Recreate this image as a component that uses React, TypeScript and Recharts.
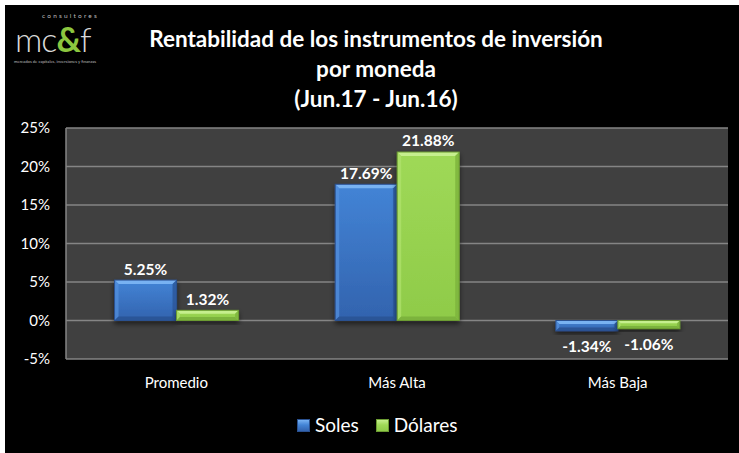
import React from 'react';
import { Bar, BarChart, CartesianGrid, LabelList, XAxis, YAxis } from 'recharts';

const categories = ['Promedio', 'Más Alta', 'Más Baja'];
const soles = [5.25, 17.69, -1.34];
const dolares = [1.32, 21.88, -1.06];
const yTicks = [-5, 0, 5, 10, 15, 20, 25];
const titleLines = ['Rentabilidad de los instrumentos de inversión', 'por moneda', '(Jun.17 - Jun.16)'];

const data = categories.map((name, i) => ({ name, soles: soles[i], dolares: dolares[i] }));

const FONT = 'Lato, "Open Sans", sans-serif';

const palettes: Record<string, { top: string; bottom: string; bevelTop: string; bevelSide: string; bevelDark: string; border: string }> = {
  soles: { top: '#4384d6', bottom: '#3263ae', bevelTop: '#78b2f2', bevelSide: '#5592de', bevelDark: '#2b5597', border: '#2a5190' },
  dolares: { top: '#9fd957', bottom: '#8fcb49', bevelTop: '#c6ef8e', bevelSide: '#b0e36e', bevelDark: '#7cb33c', border: '#6c9c32' },
};

const BevelBar = (props: any) => {
  const { x, y, width, height, dataKey } = props;
  const p = palettes[dataKey];
  const top = height < 0 ? y + height : y;
  const h = Math.abs(height);
  const w = width;
  const b = Math.min(4, h / 3);
  return (
    <g filter="url(#barShadow)">
      <rect x={x} y={top} width={w} height={h} fill={`url(#grad-${dataKey})`} />
      <polygon points={`${x},${top} ${x + w},${top} ${x + w - b},${top + b} ${x + b},${top + b}`} fill={p.bevelTop} />
      <polygon points={`${x},${top} ${x + b},${top + b} ${x + b},${top + h - b} ${x},${top + h}`} fill={p.bevelSide} opacity={0.7} />
      <polygon points={`${x + w},${top} ${x + w - b},${top + b} ${x + w - b},${top + h - b} ${x + w},${top + h}`} fill={p.bevelDark} opacity={0.8} />
      <polygon points={`${x},${top + h} ${x + b},${top + h - b} ${x + w - b},${top + h - b} ${x + w},${top + h}`} fill={p.bevelDark} />
      <rect x={x} y={top} width={w} height={h} fill="none" stroke={p.border} strokeWidth={1} />
    </g>
  );
};

const ValueLabel = (props: any) => {
  const { x, y, width, height, value } = props;
  const neg = value < 0;
  const top = height < 0 ? y + height : y;
  const bottom = top + Math.abs(height);
  const cy = neg ? bottom + 16 : top - 11;
  return (
    <text x={x + width / 2} y={cy} dy="0.35em" textAnchor="middle" fill="#ffffff" fontFamily={FONT} fontWeight={700} fontSize={15.5}>
      {value.toFixed(2)}%
    </text>
  );
};

const LegendItem = ({ label, k }: { label: string; k: string }) => (
  <span style={{ display: 'inline-flex', alignItems: 'center', marginRight: 17 }}>
    <span
      style={{
        width: 11,
        height: 11,
        marginRight: 5,
        background: `linear-gradient(${palettes[k].bevelTop}, ${palettes[k].top} 45%, ${palettes[k].bottom})`,
        border: `1px solid ${palettes[k].border}`,
        display: 'inline-block',
      }}
    />
    {label}
  </span>
);

export default function App() {
  return (
    <div style={{ position: 'absolute', left: 0, top: 0, width: 739, height: 453, background: '#ffffff', overflow: 'hidden' }}>
      <div style={{ position: 'absolute', left: 5, top: 5, width: 734, height: 448, background: '#000000' }}>
        <BarChart
          width={734}
          height={448}
          data={data}
          margin={{ top: 123, right: 11, left: 0, bottom: 0 }}
          barCategoryGap="22%"
          barGap={0}
        >
          <defs>
            <linearGradient id="grad-soles" x1="0" y1="0" x2="0" y2="1">
              <stop offset="0%" stopColor={palettes.soles.top} />
              <stop offset="100%" stopColor={palettes.soles.bottom} />
            </linearGradient>
            <linearGradient id="grad-dolares" x1="0" y1="0" x2="0" y2="1">
              <stop offset="0%" stopColor={palettes.dolares.top} />
              <stop offset="100%" stopColor={palettes.dolares.bottom} />
            </linearGradient>
            <filter id="barShadow" x="-20%" y="-20%" width="140%" height="160%">
              <feDropShadow dx="0" dy="3" stdDeviation="2.5" floodColor="#000" floodOpacity="0.55" />
            </filter>
          </defs>
          <CartesianGrid vertical={false} stroke="#858585" strokeWidth={1.5} fill="#404040" />
          <XAxis
            dataKey="name"
            height={94}
            axisLine={false}
            tickLine={false}
            tickMargin={12}
            tick={{ fill: '#ffffff', fontSize: 15, fontFamily: FONT }}
          />
          <YAxis
            width={61}
            domain={[-5, 25]}
            ticks={yTicks}
            interval={0}
            tickFormatter={(v: number) => `${v}%`}
            axisLine={{ stroke: '#858585', strokeWidth: 1.5 }}
            tickLine={false}
            tickMargin={10}
            tick={{ fill: '#ffffff', fontSize: 15, fontFamily: FONT }}
          />
          <Bar dataKey="soles" name="Soles" shape={<BevelBar />} isAnimationActive={false}>
            <LabelList dataKey="soles" content={<ValueLabel />} />
          </Bar>
          <Bar dataKey="dolares" name="Dólares" shape={<BevelBar />} isAnimationActive={false}>
            <LabelList dataKey="dolares" content={<ValueLabel />} />
          </Bar>
        </BarChart>
      </div>

      {/* title */}
      <div
        style={{
          position: 'absolute',
          left: 0,
          top: 24,
          width: 752,
          textAlign: 'center',
          color: '#ffffff',
          fontFamily: FONT,
          fontWeight: 700,
          fontSize: 22.5,
          lineHeight: '30px',
        }}
      >
        {titleLines.map((t) => (
          <div key={t}>{t}</div>
        ))}
      </div>

      {/* logo */}
      <div style={{ position: 'absolute', left: 14, top: 12, width: 90, height: 55, fontFamily: FONT }}>
        <div style={{ position: 'absolute', left: 28, top: 0, fontSize: 6.5, letterSpacing: 2.2, color: '#bdbdbd' }}>consultores</div>
        <div style={{ position: 'absolute', left: 1, top: 10, fontSize: 34, lineHeight: '34px', color: '#d9d9d9', fontWeight: 300, letterSpacing: -1 }}>
          mc<span style={{ color: '#8cc63f', fontWeight: 700 }}>&amp;</span>f
        </div>
        <div style={{ position: 'absolute', left: 0, top: 47, fontSize: 4.2, color: '#bdbdbd', whiteSpace: 'nowrap' }}>
          mercados de capitales, inversiones y finanzas
        </div>
      </div>

      {/* legend */}
      <div
        style={{
          position: 'absolute',
          left: 297,
          top: 413,
          color: '#ffffff',
          fontFamily: FONT,
          fontSize: 19,
          lineHeight: '24px',
          display: 'flex',
        }}
      >
        <LegendItem label="Soles" k="soles" />
        <LegendItem label="Dólares" k="dolares" />
      </div>
    </div>
  );
}
